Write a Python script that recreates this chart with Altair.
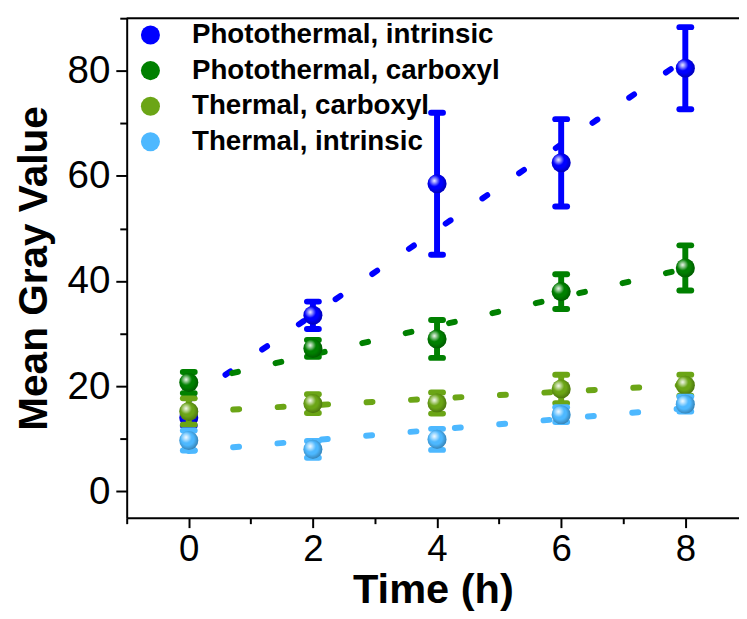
import altair as alt
import pandas as pd

# ---- data ----
times = [0, 2, 4, 6, 8]
series_names = ["Photothermal, intrinsic", "Photothermal, carboxyl",
                "Thermal, carboxyl", "Thermal, intrinsic"]
colors = ["#0000FF", "#008000", "#6BA516", "#4DB8FF"]

pi_mean = [14.0, 33.5, 58.5, 62.5, 80.5]
pi_err = [1.5, 2.6, 13.5, 8.3, 7.8]
pc_mean = [20.7, 27.2, 29.0, 38.0, 42.5]
pc_err = [2.0, 1.6, 3.6, 3.3, 4.3]
tc_mean = [15.2, 16.7, 16.8, 19.5, 20.2]
tc_err = [2.5, 1.8, 2.0, 2.7, 2.0]
ti_mean = [9.7, 8.0, 9.9, 14.6, 16.6]
ti_err = [1.9, 1.6, 2.0, 1.4, 1.4]

x_ticks = list(range(-1, 9))
y_ticks = list(range(0, 91, 10))

means = [pi_mean, pc_mean, tc_mean, ti_mean]
errs = [pi_err, pc_err, tc_err, ti_err]

FONT = "Liberation Sans"

xs = alt.Scale(domain=[-1, 8.865], nice=False, zero=False)
ys = alt.Scale(domain=[-5, 90], nice=False, zero=False)
cs = alt.Scale(domain=series_names, range=colors)

x_axis = alt.Axis(
    values=x_ticks,
    labelExpr="datum.value % 2 === 0 ? datum.label : ''",
    tickSize={"condition": {"test": "datum.value % 2 === 0", "value": 10}, "value": 6},
    labelFontSize=37, labelFont=FONT, labelColor="black", labelPadding=4,
    labelOverlap=False, labelFlush=False,
    title="Time (h)", titleFont=FONT, titleFontSize=42, titleFontWeight="bold",
    titleColor="black", titlePadding=3,
    domainColor="black", domainWidth=2, tickColor="black", tickWidth=2, grid=False,
)
y_axis = alt.Axis(
    values=y_ticks,
    labelExpr="datum.value % 20 === 0 && datum.value <= 80 ? datum.label : ''",
    tickSize={"condition": {"test": "datum.value % 20 === 0", "value": 11}, "value": 7},
    labelFontSize=39, labelFont=FONT, labelColor="black", labelPadding=6,
    labelOverlap=False, labelFlush=False,
    title="Mean Gray Value", titleFont=FONT, titleFontSize=41, titleFontWeight="bold",
    titleColor="black", titlePadding=12,
    domainColor="black", domainWidth=2, tickColor="black", tickWidth=2, grid=False,
)

legend = alt.Legend(
    title=None, orient="none", legendX=10, legendY=3, padding=0,
    symbolType="circle", symbolSize=370, symbolStrokeWidth=0, symbolOpacity=1,
    labelFont=FONT, labelFontSize=28, labelFontWeight="bold", labelColor="black",
    labelOffset=28, rowPadding=8, labelLimit=400,
)

highlight = alt.Gradient(
    gradient="radial",
    stops=[alt.GradientStop(color="rgba(255,255,255,0.95)", offset=0),
           alt.GradientStop(color="rgba(255,255,255,0)", offset=1)],
    x1=0.36, y1=0.34, r1=0, x2=0.36, y2=0.34, r2=0.3,
)
shade = alt.Gradient(
    gradient="radial",
    stops=[alt.GradientStop(color="rgba(0,0,0,0)", offset=0),
           alt.GradientStop(color="rgba(0,0,0,0)", offset=0.6),
           alt.GradientStop(color="rgba(0,0,0,0.28)", offset=1)],
    x1=0.42, y1=0.4, r1=0, x2=0.45, y2=0.45, r2=0.55,
)

frames = []
for name, m, e in zip(series_names, means, errs):
    frames.append(pd.DataFrame({"series": name, "t": times, "v": m, "err": e}))
df = pd.concat(frames, ignore_index=True)

X = alt.X("t:Q", scale=xs, axis=x_axis)
Y = alt.Y("v:Q", scale=ys, axis=y_axis)

layers = []
# dashed linear fits
for name, col in zip(series_names, colors):
    layers.append(
        alt.Chart(df).transform_filter(alt.datum.series == name)
        .transform_regression("t", "v")
        .mark_line(color=col, strokeWidth=6, strokeDash=[6, 39], strokeCap="round")
        .encode(x=X, y=Y)
    )

for name, col in zip(series_names, colors):
    base = alt.Chart(df).transform_filter(alt.datum.series == name).transform_calculate(
        lo="datum.v - datum.err", hi="datum.v + datum.err")
    layers.append(base.mark_rule(color=col, strokeWidth=6).encode(
        x=X, y=alt.Y("lo:Q", scale=ys, axis=y_axis), y2="hi:Q"))
    for f in ["lo", "hi"]:
        layers.append(base.mark_rule(color=col, strokeWidth=6, strokeCap="round",
                                     xOffset=-6, x2Offset=6).encode(
            x=X, x2="t:Q", y=alt.Y(f + ":Q", scale=ys, axis=y_axis)))
    layers.append(base.mark_circle(size=370, opacity=1).encode(
        x=X, y=Y, color=alt.Color("series:N", scale=cs, legend=legend)))
    layers.append(base.mark_circle(size=370, opacity=1, fill=shade).encode(x=X, y=Y))
    layers.append(base.mark_circle(size=370, opacity=1, fill=highlight).encode(x=X, y=Y))

# top frame line
layers.append(
    alt.Chart(pd.DataFrame({"a": [0]})).mark_rule(color="black", strokeWidth=2)
    .encode(y=alt.Y(datum=90, type="quantitative", scale=ys, axis=y_axis))
)

chart = alt.layer(*layers).properties(
    width=619, height=505,
    autosize=alt.AutoSizeParams(type="none"),
    padding={"left": 120, "top": 7, "right": 0, "bottom": 92},
).configure_view(stroke=None).configure(font=FONT, background="white")

chart.save("out.html", embed_options={"renderer": "svg", "actions": False})
